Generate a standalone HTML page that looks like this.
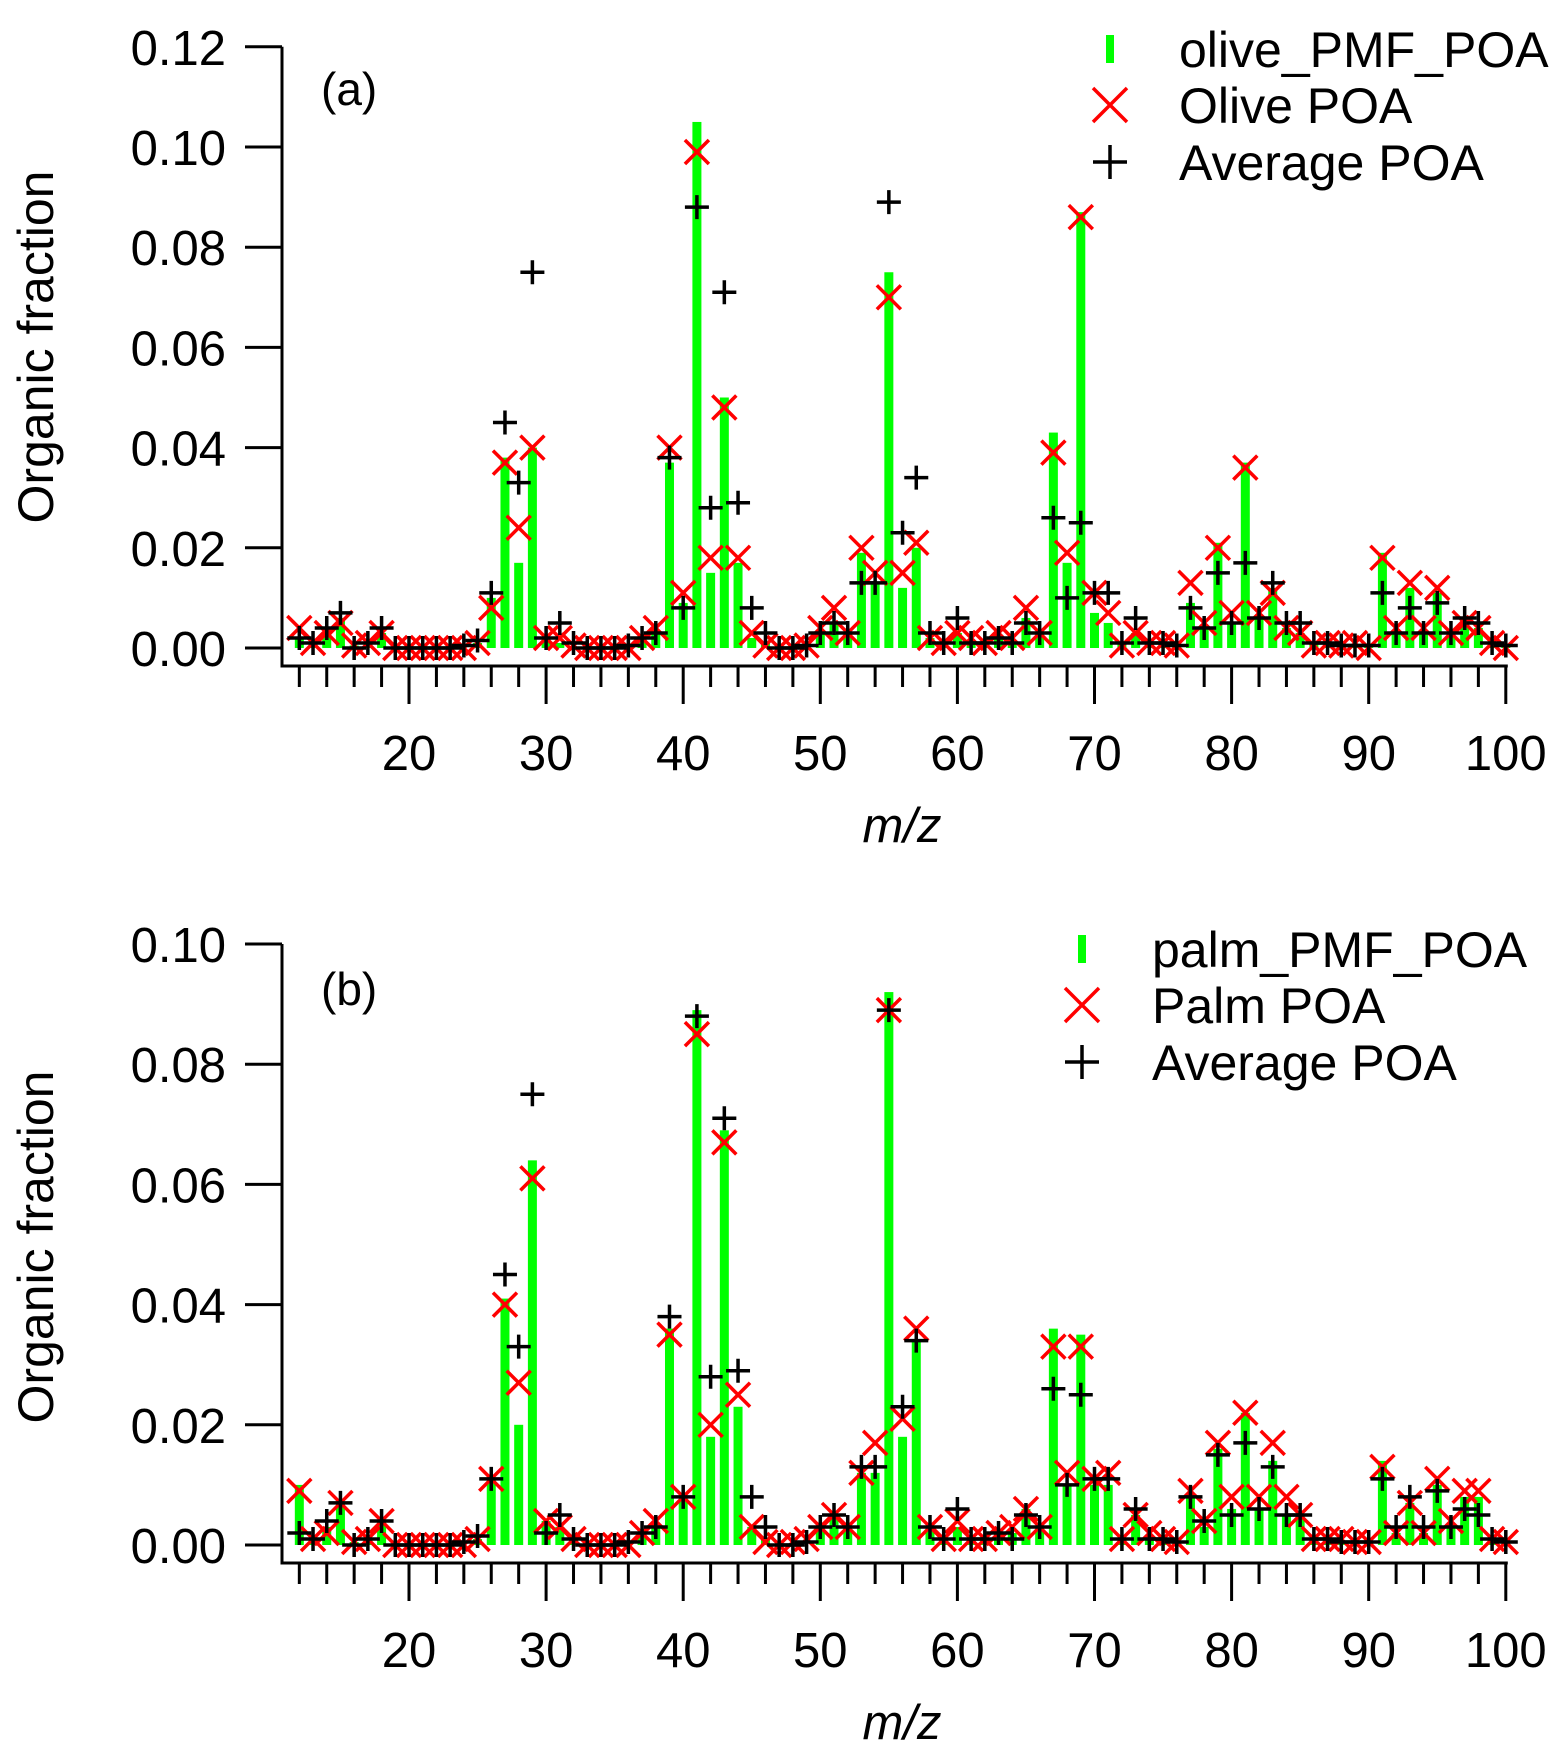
<!DOCTYPE html>
<html><head><meta charset="utf-8"><style>
html,body{margin:0;padding:0;background:#fff}
svg text{font-family:"Liberation Sans",sans-serif;fill:#000}
</style></head><body>
<svg id="chart" width="1557" height="1741" viewBox="0 0 1557 1741" xmlns="http://www.w3.org/2000/svg"></svg>
<script>
const mz = [];
for (let m = 12; m <= 100; m++) mz.push(m);
const xTicksMajor = [20,30,40,50,60,70,80,90,100];
const yTicksA = [0,0.02,0.04,0.06,0.08,0.10,0.12];
const yTicksB = [0,0.02,0.04,0.06,0.08,0.10];
const avgPOA = [0.002,0.001,0.004,0.007,0,0.001,0.004,0,0,0,0,0,0.0005,0.0015,0.011,0.045,0.033,0.075,0.002,0.005,0.001,0,0,0,0.0005,0.002,0.003,0.038,0.008,0.088,0.028,0.071,0.029,0.008,0.003,0,0,0.0005,0.003,0.005,0.003,0.013,0.013,0.089,0.023,0.034,0.003,0.001,0.006,0.001,0.001,0.002,0.001,0.005,0.003,0.026,0.010,0.025,0.011,0.011,0.001,0.006,0.001,0.001,0.0005,0.008,0.004,0.015,0.005,0.017,0.006,0.013,0.005,0.005,0.001,0.001,0.0005,0.0005,0.0005,0.011,0.003,0.008,0.003,0.009,0.003,0.006,0.005,0.001,0.0005];
const olivePOA = [0.004,0.001,0.003,0.005,0.0005,0.001,0.003,0,0,0,0,0,0,0.001,0.008,0.037,0.024,0.040,0.002,0.002,0.0005,0,0,0,0,0.002,0.004,0.040,0.011,0.099,0.018,0.048,0.018,0.003,0.0005,0,0,0.0005,0.004,0.008,0.003,0.020,0.015,0.070,0.015,0.021,0.002,0.001,0.003,0.002,0.001,0.003,0.002,0.008,0.003,0.039,0.019,0.086,0.011,0.007,0.0005,0.003,0.001,0.001,0.0005,0.013,0.005,0.020,0.007,0.036,0.007,0.011,0.004,0.003,0.0005,0.001,0.0005,0.001,0,0.018,0.004,0.013,0.004,0.012,0.003,0.005,0.004,0.001,0];
const olivePMF = [0.002,0.001,0.003,0.006,0.0005,0.001,0.003,0,0,0,0,0,0,0.001,0.010,0.038,0.017,0.040,0.002,0.001,0,0,0,0,0,0.002,0.003,0.037,0.009,0.105,0.015,0.050,0.017,0.002,0.001,0,0,0,0.003,0.005,0.003,0.019,0.013,0.075,0.012,0.020,0.002,0.001,0.003,0.001,0.001,0.002,0.001,0.006,0.003,0.043,0.017,0.087,0.007,0.005,0.001,0.003,0.001,0.001,0.0005,0.009,0.004,0.021,0.005,0.037,0.006,0.012,0.004,0.003,0.001,0.001,0.0005,0.0005,0.0005,0.019,0.003,0.012,0.003,0.011,0.003,0.006,0.004,0.001,0.0005];
const palmPMF = [0.010,0.001,0.003,0.007,0.0005,0.001,0.004,0,0,0,0,0,0,0.001,0.011,0.041,0.020,0.064,0.004,0.003,0.001,0,0,0,0,0.002,0.003,0.036,0.008,0.089,0.018,0.069,0.023,0.003,0.001,0,0,0,0.003,0.005,0.003,0.012,0.012,0.092,0.018,0.034,0.003,0.001,0.003,0.001,0.001,0.002,0.002,0.006,0.003,0.036,0.010,0.035,0.010,0.010,0.001,0.005,0.001,0.001,0.0005,0.008,0.003,0.016,0.006,0.022,0.006,0.014,0.005,0.005,0.001,0.001,0.0005,0.0005,0.0005,0.014,0.002,0.007,0.002,0.010,0.003,0.008,0.008,0.001,0.0005];
const palmPOA = [0.009,0.001,0.002,0.007,0.0005,0.001,0.004,0,0,0,0,0,0,0.001,0.011,0.040,0.027,0.061,0.004,0.003,0.001,0,0,0,0,0.002,0.004,0.035,0.008,0.085,0.020,0.067,0.025,0.003,0.0005,0,0.0005,0.001,0.003,0.005,0.003,0.012,0.017,0.089,0.021,0.036,0.003,0.001,0.004,0.001,0.001,0.002,0.003,0.006,0.003,0.033,0.012,0.033,0.011,0.012,0.001,0.005,0.002,0.001,0.0005,0.009,0.004,0.017,0.008,0.022,0.008,0.017,0.008,0.005,0.001,0.001,0.001,0.0005,0.0005,0.013,0.002,0.007,0.002,0.011,0.004,0.009,0.009,0.001,0.0005];

const NS = "http://www.w3.org/2000/svg";
const svg = document.getElementById('chart');
function mk(tag, attrs, parent){const e=document.createElementNS(NS,tag);for(const k in attrs)e.setAttribute(k,attrs[k]);(parent||svg).appendChild(e);return e;}

function drawPanel(p){
  const g = mk('g',{});
  
  
  const xs = m => 409 + (m-20)*13.71;
  const ys = v => p.y0 - v*p.pxPer;
  const axX = 282, axY = p.y0 + 18;
  mz.forEach((m,i)=>{
    const v=p.bars[i]; const h=Math.max(0,p.y0-ys(v));
    const r=mk('rect',{x:xs(m)-4.5,y:ys(v),width:9,height:h,fill:'#00ff00'},g);
    
    
  });
  mz.forEach((m,i)=>{
    const cx=xs(m), cy=ys(p.xs[i]);
    const e=mk('path',{d:`M${cx-12} ${cy-12}L${cx+12} ${cy+12}M${cx+12} ${cy-12}L${cx-12} ${cy+12}`,stroke:'#ff0000','stroke-width':3.5,fill:'none'},g);
    
    
  });
  mz.forEach((m,i)=>{
    const cx=xs(m), cy=ys(avgPOA[i]);
    const e=mk('path',{d:`M${cx-12} ${cy}L${cx+12} ${cy}M${cx} ${cy-12}L${cx} ${cy+12}`,stroke:'#000','stroke-width':3.5,fill:'none'},g);
    
    
  });
  const top = ys(p.yTicks[p.yTicks.length-1]);
  const ya=mk('path',{d:`M${axX} ${top}L${axX} ${axY}L${xs(100)+2} ${axY}`,stroke:'#000','stroke-width':3,fill:'none'},g);
  
  
  p.yTicks.forEach(t=>{
    const y=ys(t);
    mk('line',{x1:245,x2:axX,y1:y,y2:y,stroke:'#000','stroke-width':3},g);
    const tx=mk('text',{x:226,y:y+18,'font-size':49,'text-anchor':'end'},g);
    tx.textContent=t.toFixed(2);
    
    
  });
  for(let m=12;m<=100;m+=2){
    const major = m%10===0;
    mk('line',{x1:xs(m),x2:xs(m),y1:axY,y2:axY+(major?38:21),stroke:'#000','stroke-width':3},g);
  }
  xTicksMajor.forEach(m=>{
    const tx=mk('text',{x:xs(m),y:axY+104,'font-size':49,'text-anchor':'middle'},g);
    tx.textContent=m;
    
    
  });
  const xt=mk('text',{x:902,y:axY+176,'font-size':49,'text-anchor':'middle','font-style':'italic'},g);
  xt.textContent='m/z';
  
  
  const yt=mk('text',{x:0,y:0,'font-size':50,'text-anchor':'middle',transform:`translate(53 ${p.ytitleY}) rotate(-90)`},g);
  yt.textContent='Organic fraction';
  
  
  const pl=mk('text',{x:321,y:p.panelY,'font-size':46},g);
  pl.textContent=p.label;
  
  
  const L=p.leg;
  const rows=[L.r0,L.r0+56,L.r0+113];
  const i1=mk('rect',{x:L.ix-4,y:rows[0]-14,width:8,height:28,fill:'#00ff00'},g);
  
  
  const cx=L.ix, c1=rows[1];
  mk('path',{d:`M${cx-17} ${c1-17}L${cx+17} ${c1+17}M${cx+17} ${c1-17}L${cx-17} ${c1+17}`,stroke:'#ff0000','stroke-width':3.5,fill:'none'},g);
  const c2=rows[2];
  mk('path',{d:`M${cx-17} ${c2}L${cx+17} ${c2}M${cx} ${c2-17}L${cx} ${c2+17}`,stroke:'#000','stroke-width':3.5,fill:'none'},g);
  L.texts.forEach((t,k)=>{
    const tx=mk('text',{x:L.tx,y:rows[k]+18,'font-size':50},g);
    tx.textContent=t;
    
    
  });
}
drawPanel({name:'panel-a',y0:648,pxPer:5010,yTicks:yTicksA,bars:olivePMF,xs:olivePOA,label:'(a)',panelY:105,ytitleY:347,
  leg:{ix:1110,tx:1179,r0:49,texts:['olive_PMF_POA','Olive POA','Average POA']}});
drawPanel({name:'panel-b',y0:1545,pxPer:6010,yTicks:yTicksB,bars:palmPMF,xs:palmPOA,label:'(b)',panelY:1005,ytitleY:1247,
  leg:{ix:1082,tx:1152,r0:949,texts:['palm_PMF_POA','Palm POA','Average POA']}});
</script>
</body></html>
